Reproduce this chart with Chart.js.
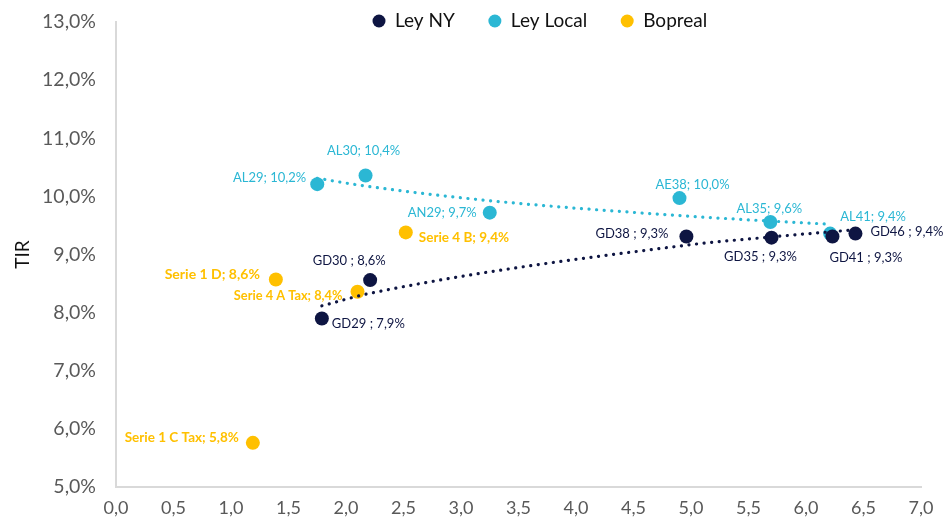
<!DOCTYPE html>
<html>
<head>
<meta charset="utf-8">
<script src="https://cdn.jsdelivr.net/npm/chart.js@4/dist/chart.umd.min.js"></script>
<style>
  html, body { margin: 0; padding: 0; background: #ffffff; }
  #wrap { width: 944px; height: 523px; }
</style>
</head>
<body>
<div id="wrap"><canvas id="c" width="944" height="523"></canvas></div>
<script>
// ---- Data (duration in years, TIR in %) ----
const nyNames  = ['GD29', 'GD30', 'GD38', 'GD35', 'GD41', 'GD46'];
const nyX      = [1.79, 2.21, 4.96, 5.70, 6.23, 6.43];
const nyY      = [7.90, 8.56, 9.31, 9.29, 9.31, 9.36];

const localNames = ['AL29', 'AL30', 'AN29', 'AE38', 'AL35', 'AL41'];
const localX     = [1.75, 2.17, 3.25, 4.90, 5.69, 6.21];
const localY     = [10.21, 10.36, 9.72, 9.97, 9.56, 9.36];

const boprealNames = ['Serie 1 C Tax', 'Serie 1 D', 'Serie 4 A Tax', 'Serie 4 B'];
const boprealX     = [1.19, 1.39, 2.10, 2.52];
const boprealY     = [5.76, 8.57, 8.36, 9.38];

const seriesNames = ['Ley NY', 'Ley Local', 'Bopreal'];
const xTicks = [0, 0.5, 1, 1.5, 2, 2.5, 3, 3.5, 4, 4.5, 5, 5.5, 6, 6.5, 7];
const yTicks = [5, 6, 7, 8, 9, 10, 11, 12, 13];

// ---- styles ----
const C_NY = '#0e1542';
const C_LOCAL = '#2bb7d4';
const C_BOP = '#ffc000';
const FONT = 'Lato, "Open Sans", "Liberation Sans", sans-serif';

function fmt(v, d) { return v.toFixed(d).replace('.', ','); }
function pts(xs, ys) { return xs.map((x, i) => ({ x: x, y: ys[i] })); }

// logarithmic trendline (least squares on ln x), evaluated at the series' own x values
function logTrend(xs, ys) {
  const n = xs.length;
  const lx = xs.map(Math.log);
  const mx = lx.reduce((a, b) => a + b, 0) / n;
  const my = ys.reduce((a, b) => a + b, 0) / n;
  let sxy = 0, sxx = 0;
  for (let i = 0; i < n; i++) { sxy += (lx[i] - mx) * (ys[i] - my); sxx += (lx[i] - mx) * (lx[i] - mx); }
  const b = sxy / sxx, a = my - b * mx;
  return xs.slice().sort((p, q) => p - q).map(x => ({ x: x, y: a + b * Math.log(x) }));
}

// label placement relative to each point: [dx, dy, align, fontSize]
const labelPlacement = {
  ny:    [[10, 5, 'left', 13], [-21, -19, 'center', 13], [-18, -3, 'right', 13], [-11, 19, 'center', 13], [-3, 21, 'left', 13], [15, -2, 'left', 13]],
  local: [[-11, -6, 'right', 13], [-2, -25, 'center', 13], [-13, 0, 'right', 13], [13, -13, 'center', 13], [-1, -13, 'center', 13], [10, -17, 'left', 13]],
  bop:   [[-14, -5, 'right', 13.5], [-16, -5, 'right', 14], [-15, 4, 'right', 12.8], [13, 5, 'left', 13.5]]
};

const labelPlugin = {
  id: 'pointLabels',
  afterDatasetsDraw(chart) {
    const ctx = chart.ctx;
    chart.data.datasets.forEach((ds, di) => {
      if (!ds.names) return;
      const meta = chart.getDatasetMeta(di);
      meta.data.forEach((el, i) => {
        const pl = labelPlacement[ds.key][i];
        const txt = ds.names[i] + ds.sep + fmt(ds.data[i].y, 1) + '%';
        ctx.save();
        ctx.font = (ds.labelBold ? 'bold ' : '') + pl[3] + 'px ' + FONT;
        ctx.fillStyle = ds.labelColor;
        ctx.textAlign = pl[2];
        ctx.textBaseline = 'middle';
        ctx.fillText(txt, el.x + pl[0], el.y + pl[1]);
        ctx.restore();
      });
    });
  }
};

const legendPlugin = {
  id: 'topLegend',
  afterDraw(chart) {
    const ctx = chart.ctx;
    const items = chart.data.datasets.filter(d => d.inLegend);
    ctx.save();
    ctx.font = '19px ' + FONT;
    ctx.textBaseline = 'middle';
    let x = 379;
    const y = 21;
    items.forEach(d => {
      ctx.fillStyle = d.backgroundColor;
      ctx.beginPath();
      ctx.arc(x, y, 6.5, 0, Math.PI * 2);
      ctx.fill();
      ctx.fillStyle = '#111111';
      ctx.textAlign = 'left';
      ctx.fillText(d.label, x + 16, y);
      x += 16 + ctx.measureText(d.label).width + 40;
    });
    ctx.restore();
  }
};

const trendStyle = {
  type: 'line', pointRadius: 0, borderWidth: 3.2, borderCapStyle: 'round',
  borderDash: [0.1, 7.5], cubicInterpolationMode: 'monotone', fill: false, showLine: true
};

new Chart(document.getElementById('c'), {
  type: 'scatter',
  data: {
    datasets: [
      Object.assign({ label: 'trend NY', data: logTrend(nyX, nyY), borderColor: C_NY, order: 1 }, trendStyle),
      Object.assign({ label: 'trend Local', data: logTrend(localX, localY), borderColor: C_LOCAL, order: 1 }, trendStyle),
      { label: seriesNames[0], data: pts(nyX, nyY), backgroundColor: C_NY, pointRadius: 7, pointBorderWidth: 0,
        inLegend: true, names: nyNames, sep: ' ; ', key: 'ny', labelColor: C_NY, labelBold: false, order: 2 },
      { label: seriesNames[1], data: pts(localX, localY), backgroundColor: C_LOCAL, pointRadius: 7, pointBorderWidth: 0,
        inLegend: true, names: localNames, sep: '; ', key: 'local', labelColor: C_LOCAL, labelBold: false, order: 2 },
      { label: seriesNames[2], data: pts(boprealX, boprealY), backgroundColor: C_BOP, pointRadius: 7, pointBorderWidth: 0,
        inLegend: true, names: boprealNames, sep: '; ', key: 'bop', labelColor: C_BOP, labelBold: true, order: 2 }
    ]
  },
  options: {
    responsive: false,
    devicePixelRatio: 1,
    animation: false,
    layout: { padding: { top: 22, right: 23, left: 0, bottom: 0 } },
    plugins: { legend: { display: false }, tooltip: { enabled: false } },
    scales: {
      x: {
        type: 'linear', min: xTicks[0], max: xTicks[xTicks.length - 1],
        afterBuildTicks(s) { s.ticks = xTicks.map(v => ({ value: v })); },
        ticks: { callback: v => fmt(v, 1), color: '#595959', font: { family: FONT, size: 18 }, padding: 2, maxRotation: 0, autoSkip: false },
        grid: { color: 'rgba(0,0,0,0)', drawTicks: true, tickLength: 8, tickColor: 'rgba(0,0,0,0)' },
        border: { color: '#d9d9d9', width: 2 },
        afterFit(s) { s.height = 36; }
      },
      y: {
        type: 'linear', min: yTicks[0], max: yTicks[yTicks.length - 1],
        afterBuildTicks(s) { s.ticks = yTicks.map(v => ({ value: v })); },
        ticks: { callback: v => fmt(v, 1) + '%', color: '#595959', font: { family: FONT, size: 19.5 }, padding: 4, autoSkip: false },
        grid: { color: 'rgba(0,0,0,0)', drawTicks: true, tickLength: 16, tickColor: 'rgba(0,0,0,0)' },
        border: { color: '#d9d9d9', width: 2 },
        title: { display: true, text: 'TIR', color: '#111111', font: { family: FONT, size: 19 }, padding: { top: 11, bottom: 0 } },
        afterFit(s) { s.width = 116; }
      }
    }
  },
  plugins: [labelPlugin, legendPlugin]
});
</script>
</body>
</html>
